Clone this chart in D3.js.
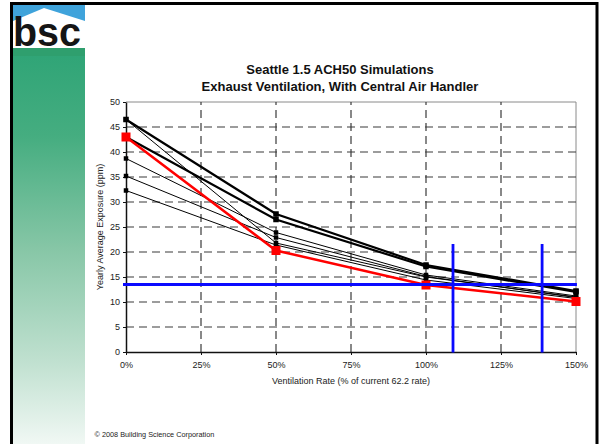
<!DOCTYPE html>
<html>
<head>
<meta charset="utf-8">
<script src="https://cdn.jsdelivr.net/npm/d3@7"></script>
<style>
  html, body { margin: 0; padding: 0; background: #fff; }
  svg { display: block; }
  text { font-family: Arial, "Liberation Sans", sans-serif; }
</style>
</head>
<body>
<svg id="chart" width="600" height="444"></svg>
<script>
// ---------- data ----------
const xValues = [0, 50, 100, 150];                     // ventilation rate (%)
const xTicks = [0, 25, 50, 75, 100, 125, 150];
const yTicks = [0, 5, 10, 15, 20, 25, 30, 35, 40, 45, 50];

const seriesA = [46.5, 27.6, 17.4, 12.2];   // thick black
const seriesC = [43.0, 26.5, 17.1, 12.0];   // thick black
const seriesB = [46.5, 21.8, 15.0, 11.0];   // thin black
const seriesD = [38.7, 23.9, 15.4, 11.2];   // thin black
const seriesE = [35.2, 22.9, 15.1, 10.9];   // thin black
const seriesF = [32.3, 21.4, 14.4, 10.7];   // thin black
const seriesRed = [43.0, 20.3, 13.4, 10.1]; // red

const targetExposure = 13.5;          // horizontal blue line (ppm)
const blueVerticalX = [109, 138.7];   // vertical blue lines (%)
const blueVerticalTop = 21.6;         // top of vertical blue lines (ppm)

const titleLines = ["Seattle 1.5 ACH50 Simulations", "Exhaust Ventilation, With Central Air Handler"];
const xTitle = "Ventilation Rate (% of current 62.2 rate)";
const yTitle = "Yearly Average Exposure (ppm)";
const footer = "\u00A9 2008 Building Science Corporation";

// ---------- layout ----------
const svg = d3.select("#chart");
const x = d3.scaleLinear().domain([0, 150]).range([126, 576]);
const y = d3.scaleLinear().domain([0, 50]).range([352, 102]);

// sidebar gradient
const defs = svg.append("defs");
const grad = defs.append("linearGradient").attr("id", "side").attr("x1", 0).attr("y1", 0).attr("x2", 0).attr("y2", 1);
[[0, "#2ea476"], [0.22, "#45ad80"], [0.5, "#86c6a6"], [0.78, "#bfe0cf"], [1, "#f3f9f6"]].forEach(s =>
  grad.append("stop").attr("offset", s[0]).attr("stop-color", s[1]));
svg.append("rect").attr("x", 13).attr("y", 48).attr("width", 72).attr("height", 400).attr("fill", "url(#side)");

// logo
svg.append("rect").attr("x", 13).attr("y", 5).attr("width", 72).attr("height", 45).attr("fill", "#3fa3db");
svg.append("polygon").attr("points", "13,21 44,8 85,21 85,50 13,50").attr("fill", "#ffffff");
svg.append("rect").attr("x", 13).attr("y", 48).attr("width", 72).attr("height", 8).attr("fill", "#2f9f6e");
svg.append("text").attr("x", 13).attr("y", 46).attr("font-size", 41).attr("font-weight", "bold")
  .attr("fill", "#151515").attr("textLength", 68).attr("lengthAdjust", "spacingAndGlyphs").text("bsc");

// slide frame
svg.append("path").attr("d", "M11.5,448 V3.5 H597 V448").attr("fill", "none").attr("stroke", "#000").attr("stroke-width", 3);

// title
svg.append("text").attr("x", 340).attr("y", 74).attr("text-anchor", "middle").attr("font-size", 13)
  .attr("font-weight", "bold").attr("fill", "#111").text(titleLines[0]);
svg.append("text").attr("x", 340).attr("y", 91).attr("text-anchor", "middle").attr("font-size", 13)
  .attr("font-weight", "bold").attr("fill", "#111").text(titleLines[1]);

// plot border (top/right)
svg.append("path").attr("d", `M${x(0)},${y(50)} H${x(150)} V${y(0)}`).attr("fill", "none")
  .attr("stroke", "#8a8a8a").attr("stroke-width", 1);

// gridlines
const g = svg.append("g");
g.selectAll(".hg").data(yTicks.filter(v => v > 0 && v < 50)).join("line")
  .attr("x1", x(0)).attr("x2", x(150)).attr("y1", d => y(d)).attr("y2", d => y(d))
  .attr("stroke", "#3a3a3a").attr("stroke-width", 1.2).attr("stroke-dasharray", "8,5");
g.selectAll(".vg").data(xTicks.filter(v => v > 0 && v < 150)).join("line")
  .attr("x1", d => x(d)).attr("x2", d => x(d)).attr("y1", y(0)).attr("y2", y(50))
  .attr("stroke", "#3a3a3a").attr("stroke-width", 1.2).attr("stroke-dasharray", "8,5");

// axes
const yAxis = svg.append("g").attr("transform", `translate(${x(0)},0)`)
  .call(d3.axisLeft(y).tickValues(yTicks).tickSize(3).tickPadding(3).tickSizeOuter(0));
const xAxis = svg.append("g").attr("transform", `translate(0,${y(0)})`)
  .call(d3.axisBottom(x).tickValues(xTicks).tickSize(3).tickPadding(7).tickSizeOuter(0).tickFormat(d => d + "%"));
[yAxis, xAxis].forEach(a => {
  a.select(".domain").attr("stroke", "#111").attr("stroke-width", 1.5);
  a.selectAll(".tick line").attr("stroke", "#111");
  a.selectAll("text").attr("font-size", 9).attr("fill", "#222").attr("font-family", "Arial, 'Liberation Sans', sans-serif");
});

// axis titles
svg.append("text").attr("x", 351).attr("y", 384).attr("text-anchor", "middle").attr("font-size", 9)
  .attr("fill", "#222").text(xTitle);
svg.append("text").attr("transform", "translate(103,227) rotate(-90)").attr("text-anchor", "middle")
  .attr("font-size", 9).attr("fill", "#222").text(yTitle);

// series
const line = d3.line().x((d, i) => x(xValues[i])).y(d => y(d));
const series = [
  { v: seriesF, color: "#000", w: 1, m: 4.5 },
  { v: seriesE, color: "#000", w: 1, m: 4.5 },
  { v: seriesD, color: "#000", w: 1, m: 4.5 },
  { v: seriesB, color: "#000", w: 1, m: 4.5 },
  { v: seriesC, color: "#000", w: 2.2, m: 5.5 },
  { v: seriesA, color: "#000", w: 2.2, m: 5.5 },
  { v: seriesRed, color: "#ff0000", w: 2.5, m: 9 }
];
series.forEach(s => {
  svg.append("path").datum(s.v).attr("d", line).attr("fill", "none")
    .attr("stroke", s.color).attr("stroke-width", s.w);
  svg.append("g").selectAll("rect").data(s.v).join("rect")
    .attr("x", (d, i) => x(xValues[i]) - s.m / 2).attr("y", d => y(d) - s.m / 2)
    .attr("width", s.m).attr("height", s.m).attr("fill", s.color);
});

// blue annotation lines
svg.append("line").attr("x1", x(-1)).attr("x2", x(150.3)).attr("y1", y(targetExposure)).attr("y2", y(targetExposure))
  .attr("stroke", "#0a0aff").attr("stroke-width", 2.8);
svg.selectAll(".bv").data(blueVerticalX).join("line")
  .attr("x1", d => x(d)).attr("x2", d => x(d)).attr("y1", y(blueVerticalTop)).attr("y2", y(-0.1))
  .attr("stroke", "#0a0aff").attr("stroke-width", 2.8);

// footer
svg.append("text").attr("x", 94.5).attr("y", 436.5).attr("font-size", 7.3).attr("fill", "#222").text(footer);
</script>
</body>
</html>
